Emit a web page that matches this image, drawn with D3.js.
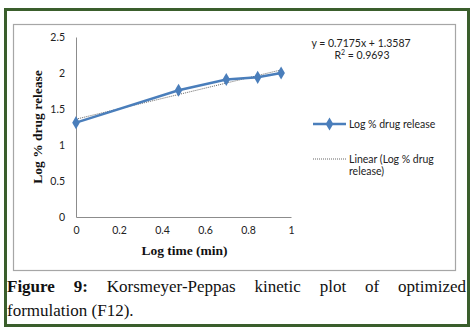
<!DOCTYPE html>
<html><head><meta charset="utf-8">
<script src="https://cdn.jsdelivr.net/npm/d3@7"></script>
<style>
html,body{margin:0;padding:0;background:#fff;}
#wrap{position:relative;width:475px;height:330px;}
.cap{position:absolute;left:7px;width:459px;font-family:"Liberation Serif","DejaVu Serif",serif;font-size:17px;line-height:20px;color:#111;white-space:nowrap;}
#cap1{top:277px;text-align:justify;text-align-last:justify;}
#cap2{top:301px;text-align:left;}
</style></head>
<body><div id="wrap"><svg id="chart" width="475" height="330"></svg><div id="cap1" class="cap"></div><div id="cap2" class="cap"></div></div>
<script>
const logTime = [0, 0.477, 0.699, 0.845, 0.954];
const logRelease = [1.31, 1.76, 1.91, 1.94, 2.00];
const yTicks = [0, 0.5, 1, 1.5, 2, 2.5];
const xTicks = [0, 0.2, 0.4, 0.6, 0.8, 1];
const slope = 0.7175, intercept = 1.3587, r2 = "0.9693";
const seriesName = "Log % drug release";
const trendName = ["Linear (Log % drug", "release)"];
const xTitle = "Log time (min)", yTitle = "Log % drug release";
const captionLabel = "Figure 9:";
const captionLines = ["Korsmeyer-Peppas kinetic plot of optimized", "formulation (F12)."];

const svg = d3.select("#chart");
const x = d3.scaleLinear().domain([0, 1]).range([76, 291]);
const y = d3.scaleLinear().domain([0, 2.5]).range([217, 37]);
const tickFont = "Lato, 'Liberation Sans', sans-serif";

svg.append("rect").attr("x",5.5).attr("y",9.5).attr("width",463).attr("height",316)
  .attr("fill","#fff").attr("stroke","#3a5e2c").attr("stroke-width",3);
svg.append("rect").attr("x",13.5).attr("y",24.5).attr("width",442).attr("height",246)
  .attr("fill","#fff").attr("stroke","#a6a6a6").attr("stroke-width",1.2);

const yAxis = svg.append("g").attr("transform","translate(76,0)")
  .call(d3.axisLeft(y).tickValues(yTicks).tickSize(0).tickPadding(11).tickFormat(d3.format("")));
const xAxis = svg.append("g").attr("transform","translate(0,217)")
  .call(d3.axisBottom(x).tickValues(xTicks).tickSize(0).tickPadding(10).tickFormat(d3.format("")));
[yAxis,xAxis].forEach(a=>{
  a.select(".domain").attr("stroke","#8c8c8c").attr("stroke-width",1);
  a.selectAll("text").attr("font-family",tickFont).attr("font-size",10.5).attr("fill","#222");
});

svg.append("text").attr("x",x(0.5)+1).attr("y",255).attr("text-anchor","middle")
  .attr("font-family","'Liberation Serif',serif").attr("font-weight","bold").attr("font-size",13.5).attr("fill","#111").text(xTitle);
svg.append("text").attr("transform","translate(42,127) rotate(-90)").attr("text-anchor","middle")
  .attr("font-family","'Liberation Serif',serif").attr("font-weight","bold").attr("font-size",13.5).attr("fill","#111").text(yTitle);

// trendline
const xe = d3.extent(logTime);
svg.append("line").attr("x1",x(xe[0])).attr("y1",y(intercept+slope*xe[0]))
  .attr("x2",x(xe[1])).attr("y2",y(intercept+slope*xe[1]))
  .attr("stroke","#666").attr("stroke-width",1).attr("stroke-dasharray","1,1");

const pts = logTime.map((v,i)=>[v,logRelease[i]]);
svg.append("path").datum(pts).attr("fill","none").attr("stroke","#4a7ebb").attr("stroke-width",2.5)
  .attr("d",d3.line().x(d=>x(d[0])).y(d=>y(d[1])));
const diamond = d3.symbol().type(d3.symbolDiamond).size(50);
svg.selectAll(".pt").data(pts).join("path").attr("class","pt")
  .attr("transform",d=>`translate(${x(d[0])},${y(d[1])})`).attr("d",diamond).attr("fill","#4a7ebb");

// equation
const eq = svg.append("text").attr("font-family",tickFont).attr("font-size",10.5).attr("fill","#222").attr("text-anchor","middle");
eq.append("tspan").attr("x",361).attr("y",47).text(`y = ${slope}x + ${intercept}`);
const r = eq.append("tspan").attr("x",362).attr("y",59).text("R");
r.append("tspan").attr("font-size",7).attr("dy",-4).text("2");
r.append("tspan").attr("dy",4).text(` = ${r2}`);

// legend
svg.append("line").attr("x1",313).attr("x2",346).attr("y1",124).attr("y2",124).attr("stroke","#4a7ebb").attr("stroke-width",2.5);
svg.append("path").attr("transform","translate(329.5,124)").attr("d",diamond).attr("fill","#4a7ebb");
svg.append("text").attr("x",349).attr("y",127.5).attr("font-family",tickFont).attr("font-size",10.5).attr("fill","#222").text(seriesName);
svg.append("line").attr("x1",313).attr("x2",346).attr("y1",159).attr("y2",159).attr("stroke","#666").attr("stroke-width",1).attr("stroke-dasharray","1,1");
const lt = svg.append("text").attr("font-family",tickFont).attr("font-size",10.5).attr("fill","#222");
trendName.forEach((t,i)=>lt.append("tspan").attr("x",349).attr("y",162.5+i*12.5).text(t));

// caption
const c1 = d3.select("#cap1");
c1.append("b").text(captionLabel);
c1.append("span").text(" " + captionLines[0]);
d3.select("#cap2").text(captionLines[1]);
</script></body></html>
